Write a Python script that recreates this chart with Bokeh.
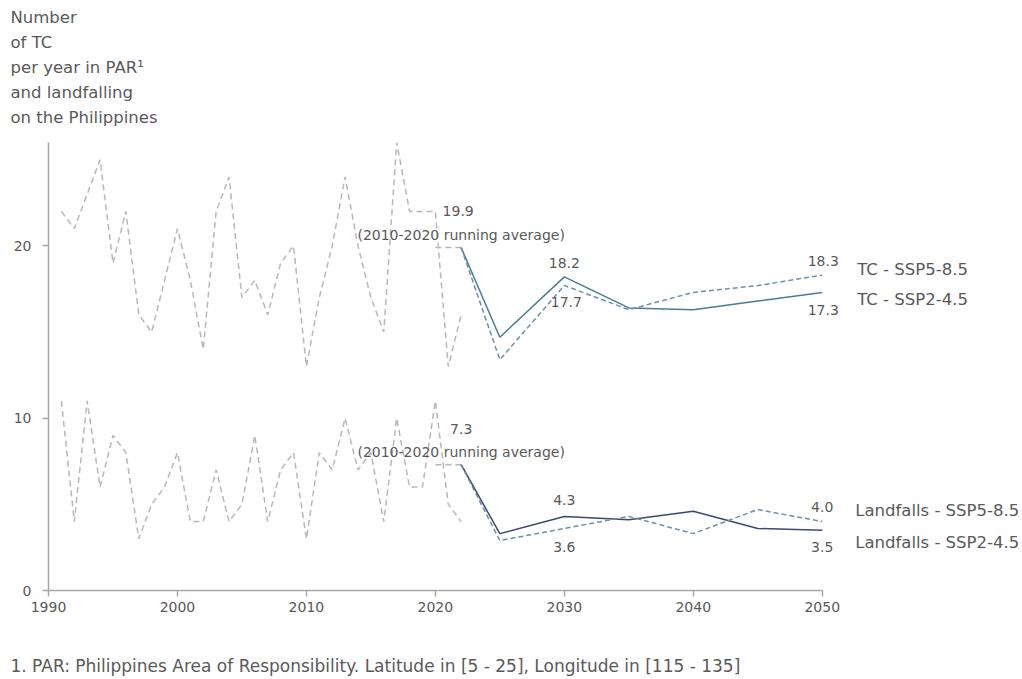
from bokeh.plotting import figure
from bokeh.models import Label, FixedTicker, Range1d
from bokeh.layouts import column
from bokeh.embed import file_html
from bokeh.resources import INLINE

# ---------------- data ----------------
hist_years = list(range(1991, 2023))
tc_hist = [22, 21, 23, 25, 19, 22, 16, 15, 18, 21, 18, 14, 22, 24, 17, 18,
           16, 19, 20, 13, 17, 20, 24, 20, 17, 15, 26, 22, 22, 22, 13, 16]
lf_hist = [11, 4, 11, 6, 9, 8, 3, 5, 6, 8, 4, 4, 7, 4, 5, 9,
           4, 7, 8, 3, 8, 7, 10, 7, 8, 4, 10, 6, 6, 11, 5, 4]

ra_years = [2020, 2022]
tc_ra = [19.9, 19.9]
lf_ra = [7.3, 7.3]

proj_years = [2022, 2025, 2030, 2035, 2040, 2045, 2050]
tc_ssp245 = [19.9, 14.7, 18.2, 16.4, 16.3, 16.8, 17.3]
tc_ssp585 = [19.9, 13.4, 17.7, 16.3, 17.3, 17.7, 18.3]
lf_ssp245 = [7.3, 3.3, 4.3, 4.1, 4.6, 3.6, 3.5]
lf_ssp585 = [7.3, 2.9, 3.6, 4.3, 3.3, 4.7, 4.0]

x_ticks = [1990, 2000, 2010, 2020, 2030, 2040, 2050]
y_ticks = [0, 10, 20]

title_lines = ["Number", "of TC", "per year in PAR\u00b9", "and landfalling", "on the Philippines"]
footnote = "1. PAR: Philippines Area of Responsibility. Latitude in [5 - 25], Longitude in [115 - 135]"
ra_text = "(2010-2020 running average)"
series_names = ["TC - SSP5-8.5", "TC - SSP2-4.5", "Landfalls - SSP5-8.5", "Landfalls - SSP2-4.5"]

# ---------------- style ----------------
FONT = "DejaVu Sans"
TXT = "#595959"
AXC = "#a6a6a6"
HIST = "#b7b7bf"
TC_SOLID = "#4a7b99"
TC_DASH = "#6a91ad"
LF_SOLID = "#3b4a6c"
LF_DASH = "#6d8fab"
W = 1022


def text_fig(h):
    f = figure(width=W, height=h, x_range=Range1d(0, W), y_range=Range1d(h, 0),
               x_axis_type=None, y_axis_type=None, output_backend="svg",
               toolbar_location=None, min_border=0, frame_align=False)
    f.outline_line_color = None
    f.grid.visible = False
    return f


# ---------------- top text block ----------------
top = text_fig(133)
for i, t in enumerate(title_lines):
    top.add_layout(Label(x=10, y=17 + 25 * i, text=t, text_align="left",
                         text_baseline="middle", text_font=FONT,
                         text_font_size="16.5px", text_color=TXT))

# ---------------- main chart ----------------
p = figure(width=W, height=499, x_range=Range1d(1990, 2065.53), y_range=Range1d(0, 26),
           output_backend="svg", toolbar_location=None, frame_align=False,
           min_border_left=48, min_border_right=0,
           min_border_top=9, min_border_bottom=42)
p.outline_line_color = None
p.xgrid.visible = False
p.ygrid.visible = False

for ax in (p.xaxis, p.yaxis):
    ax.axis_line_color = AXC
    ax.axis_line_width = 1.5
    ax.major_tick_line_color = AXC
    ax.major_tick_line_width = 1.5
    ax.minor_tick_line_color = None
    ax.major_tick_in = 0
    ax.major_tick_out = 6
    ax.major_label_text_font = FONT
    ax.major_label_text_font_size = "14px"
    ax.major_label_text_color = TXT
p.xaxis.ticker = FixedTicker(ticks=x_ticks)
p.yaxis.ticker = FixedTicker(ticks=y_ticks)
p.xaxis.bounds = (1990, 2050)
p.xaxis.major_label_standoff = 5
p.yaxis.major_label_standoff = 11

# historical
p.line(hist_years, tc_hist, line_color=HIST, line_width=1.5, line_dash="6 4")
p.line(hist_years, lf_hist, line_color=HIST, line_width=1.5, line_dash="6 4")
p.line(ra_years, tc_ra, line_color=HIST, line_width=1.5, line_dash="6 4")
p.line(ra_years, lf_ra, line_color=HIST, line_width=1.5, line_dash="6 4")

# projections
p.line(proj_years, tc_ssp245, line_color=TC_SOLID, line_width=1.5)
p.line(proj_years, tc_ssp585, line_color=TC_DASH, line_width=1.5, line_dash="5 3")
p.line(proj_years, lf_ssp245, line_color=LF_SOLID, line_width=1.5)
p.line(proj_years, lf_ssp585, line_color=LF_DASH, line_width=1.5, line_dash="5 3")


def lab(x, y, text, xo=0, yo=0, align="center", size="14px"):
    p.add_layout(Label(x=x, y=y, text=text, x_offset=xo, y_offset=yo,
                       text_align=align, text_baseline="middle",
                       text_font=FONT, text_font_size=size, text_color=TXT))


# value labels
lab(proj_years[0], tc_ssp245[0], f"{tc_ssp245[0]:.1f}", xo=-3, yo=37)
lab(proj_years[0], tc_ssp245[0], ra_text, xo=0, yo=13)
lab(proj_years[2], tc_ssp245[2], f"{tc_ssp245[2]:.1f}", yo=14)
lab(proj_years[2], tc_ssp585[2], f"{tc_ssp585[2]:.1f}", xo=2, yo=-16)
lab(proj_years[-1], tc_ssp585[-1], f"{tc_ssp585[-1]:.1f}", xo=1, yo=14)
lab(proj_years[-1], tc_ssp245[-1], f"{tc_ssp245[-1]:.1f}", xo=1, yo=-18)

lab(proj_years[0], lf_ssp245[0], f"{lf_ssp245[0]:.1f}", yo=36)
lab(proj_years[0], lf_ssp245[0], ra_text, xo=0, yo=13)
lab(proj_years[2], lf_ssp245[2], f"{lf_ssp245[2]:.1f}", yo=16)
lab(proj_years[2], lf_ssp585[2], f"{lf_ssp585[2]:.1f}", yo=-19)
lab(proj_years[-1], lf_ssp585[-1], f"{lf_ssp585[-1]:.1f}", yo=15)
lab(proj_years[-1], lf_ssp245[-1], f"{lf_ssp245[-1]:.1f}", yo=-17)

# series names on the right
lab(2050, tc_ssp585[-1], series_names[0], xo=35, yo=6, align="left", size="16.5px")
lab(2050, tc_ssp245[-1], series_names[1], xo=35, yo=-7, align="left", size="16.5px")
lab(2050, lf_ssp585[-1], series_names[2], xo=33, yo=11, align="left", size="16.5px")
lab(2050, lf_ssp245[-1], series_names[3], xo=33, yo=-12, align="left", size="16.5px")

# ---------------- footnote ----------------
foot = text_fig(47)
foot.add_layout(Label(x=10, y=33, text=footnote, text_align="left",
                      text_baseline="middle", text_font=FONT,
                      text_font_size="17px", text_color=TXT))

layout = column(top, p, foot, spacing=0)
open("out.html", "w").write(file_html(layout, INLINE))
